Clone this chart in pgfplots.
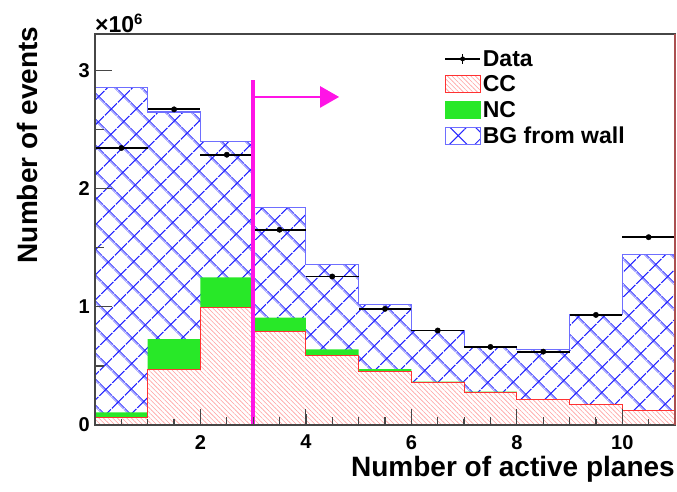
\documentclass[border=0pt]{standalone}
\usepackage{pgfplots}
\pgfplotsset{compat=1.18}
\usepackage{pgfplotstable}
\usetikzlibrary{patterns.meta,arrows.meta}
\usepackage{fontspec}
\setmainfont{Liberation Sans}

\definecolor{ccline}{RGB}{255,50,50}
\definecolor{cchatch}{RGB}{255,160,160}
\definecolor{ncgreen}{RGB}{40,232,40}
\definecolor{bgblue}{RGB}{40,40,255}
\definecolor{bgline}{RGB}{110,110,255}
\definecolor{mag}{RGB}{255,20,230}
\definecolor{frame}{RGB}{70,70,70}
\definecolor{rightedge}{RGB}{170,80,80}

\pgfplotstableread{
x   cc     ccnc   total
0   0.062  0.107  2.86
1   0.472  0.726  2.65
2   0.994  1.25   2.40
3   0.794  0.91   1.845
4   0.59   0.64   1.356
5   0.452  0.472  1.017
6   0.358  0.367  0.80
7   0.277  0.283  0.655
8   0.215  0.219  0.636
9   0.172  0.175  0.938
10  0.119  0.121  1.44
11  0.119  0.121  1.44
}\hist

\pgfplotstableread{
x     y
0.5   2.345
1.5   2.672
2.5   2.288
3.5   1.653
4.5   1.257
5.5   0.983
6.5   0.80
7.5   0.661
8.5   0.621
9.5   0.932
10.5  1.59
}\data

\begin{document}
\begin{tikzpicture}
\begin{axis}[
  name=ax,
  at={(0pt,0pt)}, anchor=south west,
  scale only axis, width=580pt, height=391pt,
  xmin=0, xmax=11, ymin=0, ymax=3.31,
  xtick={2,4,6,8,10}, minor x tick num=3,
  ytick={0,1,2,3}, minor y tick num=1,
  tick align=inside, xtick pos=left, ytick pos=left,
  major tick length=16pt, minor tick length=8pt,
  major tick style={frame, line width=1.1pt},
  minor tick style={frame, line width=1.1pt},
  axis on top,
  axis line style={frame, line width=1.3pt},
  /pgf/number format/assume math mode=true,
  ticklabel style={font=\fontsize{20}{24}\selectfont\bfseries, inner sep=0pt},
  xticklabel style={anchor=north, yshift=-10pt},
  yticklabel style={anchor=east, xshift=-5pt},
  xlabel={Number of active planes},
  ylabel={Number of events},
  xlabel style={at={(axis description cs:1.0,-0.132)}, anchor=base east, inner sep=0pt, font=\fontsize{28}{32}\selectfont\bfseries},
  ylabel style={at={(axis description cs:-0.117,0.716)}, anchor=center, inner sep=0pt, font=\fontsize{28}{32}\selectfont\bfseries},
  legend style={at={(rel axis cs:0.602,0.964)}, anchor=north west, draw=none, fill=none,
    font=\fontsize{23}{25}\selectfont\bfseries, inner sep=0pt, row sep=4pt,
    nodes={inner sep=2pt}, /tikz/every even column/.append style={column sep=4pt}},
  legend cell align=left,
]
\addlegendimage{legend image code/.code={
  \draw[black, line width=1.5pt] (0pt,0pt) -- (35pt,0pt);
  \draw[black, line width=1.2pt] (17.5pt,-5pt) -- (17.5pt,5pt);
  \fill[black] (17.5pt,0pt) circle (2.2pt);}}
\addlegendentry{Data}
\addlegendimage{legend image code/.code={
  \draw[ccline, line width=0.8pt, fill=white, postaction={pattern={Lines[angle=-45,distance=3.3pt,line width=0.6pt]}, pattern color=cchatch}] (0pt,-8.5pt) rectangle (35pt,8.5pt);}}
\addlegendentry{CC}
\addlegendimage{legend image code/.code={
  \fill[ncgreen] (0pt,-8.5pt) rectangle (35pt,8.5pt);}}
\addlegendentry{NC}
\addlegendimage{legend image code/.code={
  \draw[bgline, line width=0.8pt, fill=white, postaction={pattern={Hatch[angle=45,distance=18pt,line width=1pt]}, pattern color=bgblue}] (0pt,-8.5pt) rectangle (35pt,8.5pt);}}
\addlegendentry{BG from wall}

% BG from wall (total)
\addplot[const plot, draw=none, fill=white, forget plot,
  postaction={pattern={Hatch[angle=45,distance=18.5pt,line width=1.2pt]}, pattern color=bgblue}]
  table[x=x, y=total] {\hist} \closedcycle;
% NC (cumulative CC+NC)
\addplot[const plot, draw=none, fill=ncgreen, forget plot]
  table[x=x, y=ccnc] {\hist} \closedcycle;
% CC
\addplot[const plot, draw=none, fill=white, forget plot,
  postaction={pattern={Lines[angle=-45,distance=3.3pt,line width=0.6pt]}, pattern color=cchatch}]
  table[x=x, y=cc] {\hist} \closedcycle;
% outlines
\addplot[const plot, bgline, line width=1.1pt, no marks, forget plot] table[x=x, y=total] {\hist};
\addplot[const plot, ccline, line width=1.1pt, no marks, forget plot] table[x=x, y=cc] {\hist};

% Data
\addplot[black, only marks, mark=*, mark size=2.7pt, forget plot,
  error bars/.cd, x dir=both, x fixed=0.5, error mark=none,
  error bar style={line width=1.8pt, black}]
  table[x=x, y=y] {\data};

% magenta cut
\draw[mag, line width=3.5pt] (axis cs:3,0) -- (axis cs:3,2.924);
\draw[mag, line width=2.6pt, -{Triangle[length=19pt,width=21pt]}] (axis cs:3,2.777) -- (axis cs:4.63,2.777);

% ROOT-style inward ticks (left and bottom only)
\pgfplotsinvokeforeach{0,1,2,3}{\draw[frame, line width=1.2pt] (axis cs:0,#1) -- ++(17pt,0pt);}
\pgfplotsinvokeforeach{0.5,1.5,2.5}{\draw[frame, line width=1.2pt] (axis cs:0,#1) -- ++(9pt,0pt);}
\pgfplotsinvokeforeach{2,4,6,8,10}{\draw[frame, line width=1.2pt] (axis cs:#1,0) -- ++(0pt,11pt);}
\pgfplotsinvokeforeach{0.5,1,1.5,2.5,3,3.5,4.5,5,5.5,6.5,7,7.5,8.5,9,9.5,10.5}{\draw[frame, line width=1.2pt] (axis cs:#1,0) -- ++(0pt,5.5pt);}
\end{axis}
\draw[frame, line width=1.5pt] (ax.south west) -- (ax.north west) -- (ax.north east);
\draw[frame, line width=1.5pt] (ax.south west) -- (ax.south east);
\draw[rightedge, line width=1.3pt] (ax.south east) -- (ax.north east);
\node[anchor=base west, inner sep=0pt, font=\fontsize{23}{26}\selectfont\bfseries] at ([yshift=1pt]ax.north west) {×10\raisebox{8pt}{\fontsize{15}{17}\selectfont 6}};
\path (-95pt,-67pt) rectangle (582pt,425pt);
\end{tikzpicture}
\end{document}
